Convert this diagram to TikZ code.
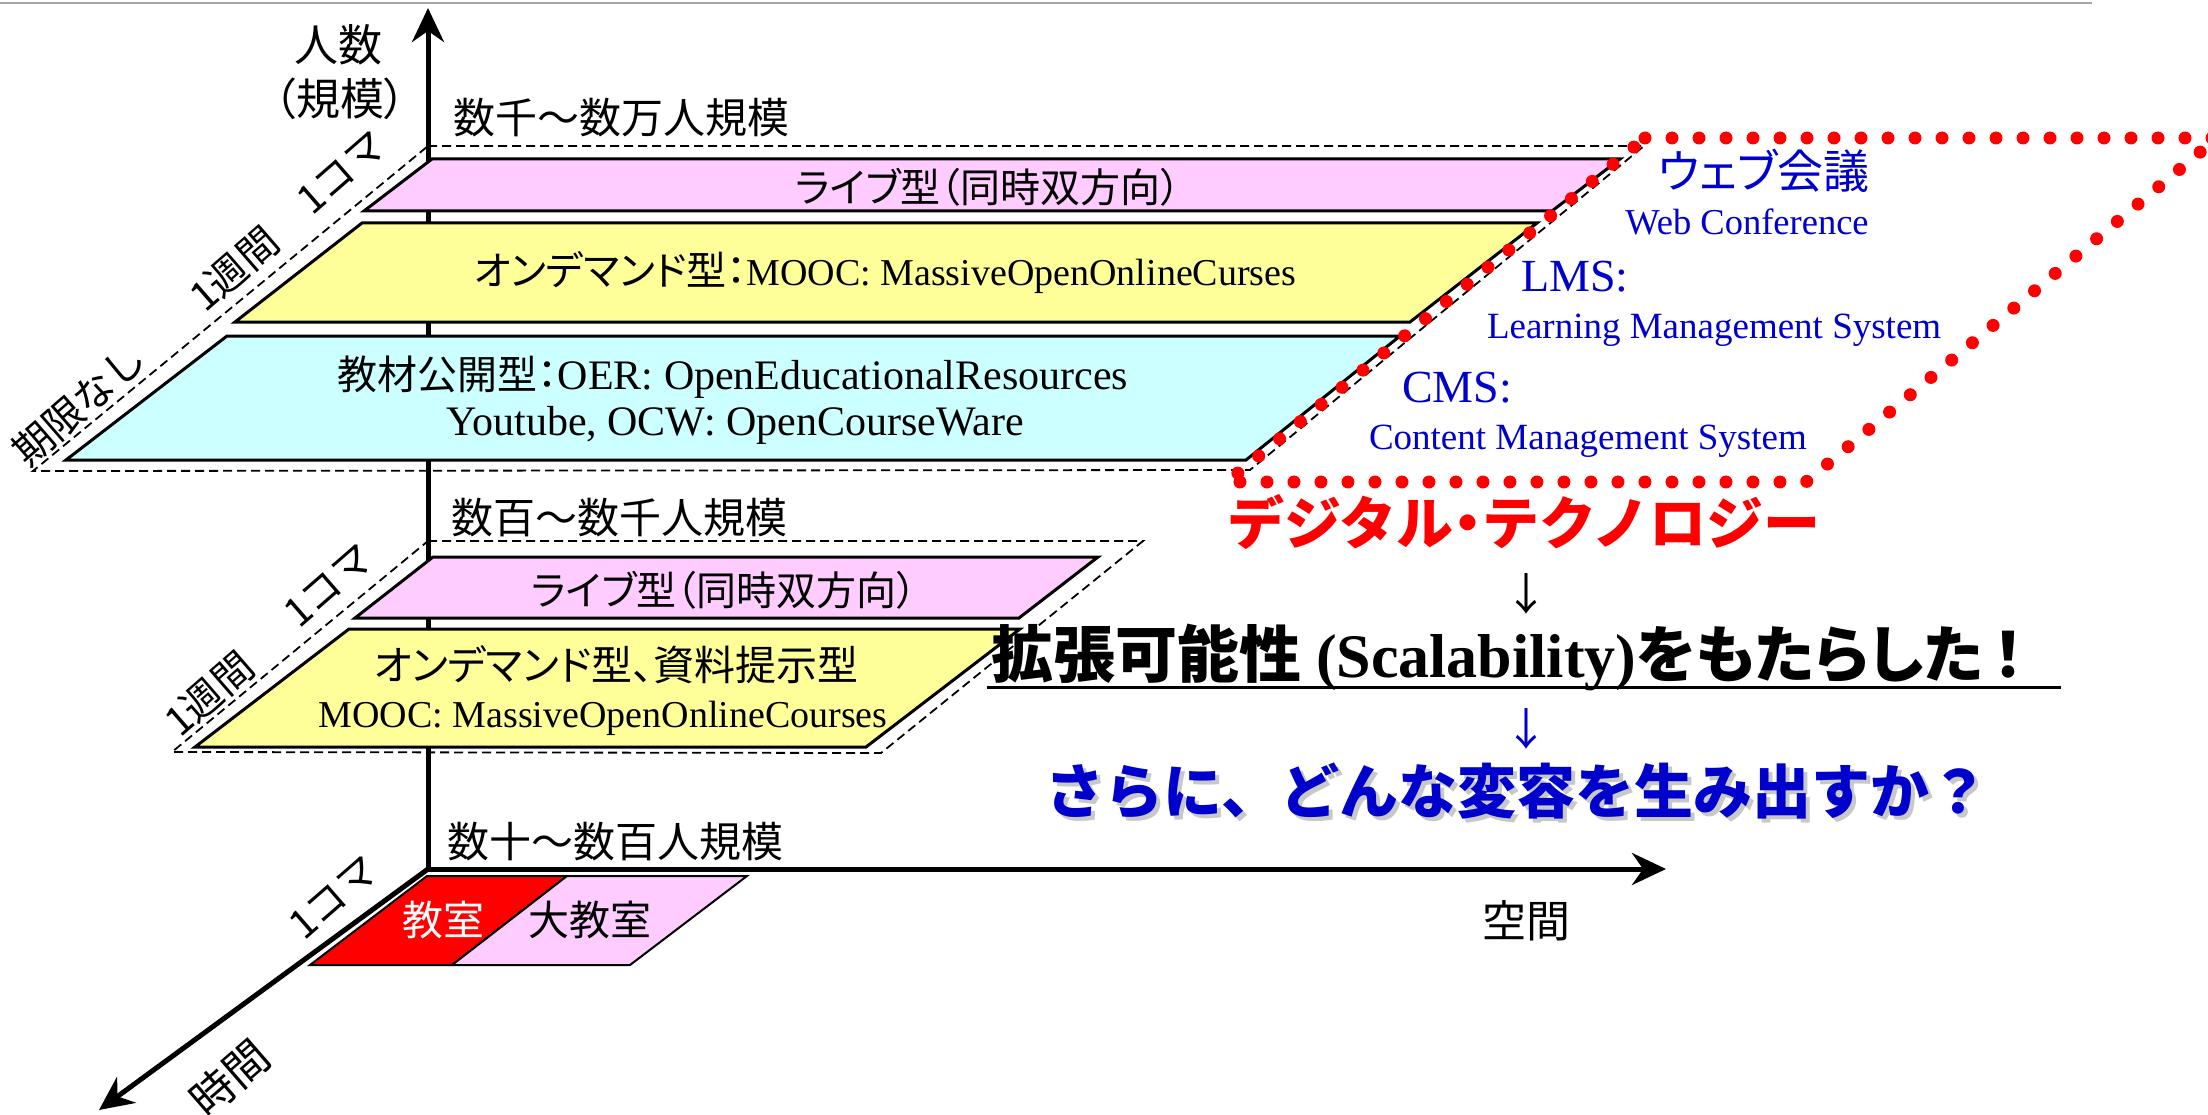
\documentclass[tikz,border=0pt]{standalone}
\usepackage{fontspec}
\setmainfont{Liberation Serif}
\newfontfamily\jp{Noto Sans CJK JP}
\newfontfamily\jpp{Noto Sans CJK JP}[RawFeature=+palt]
\usetikzlibrary{arrows.meta}
\definecolor{pinkf}{RGB}{255,204,255}
\definecolor{yellowf}{RGB}{255,255,153}
\definecolor{cyanf}{RGB}{204,255,255}
\definecolor{bluet}{RGB}{0,0,204}
\definecolor{redt}{RGB}{255,0,0}
\definecolor{grayl}{RGB}{166,166,166}
\definecolor{shadowc}{RGB}{200,200,200}
\newcommand\fsz[1]{\fontsize{#1}{#1}\selectfont}
\begin{document}
\begin{tikzpicture}[x=1pt,y=-1pt,
  lbl/.style={inner sep=0pt, outer sep=0pt},
  boxp/.style={draw=black, line width=3pt},
  frame/.style={draw=black, line width=1.8pt, dash pattern=on 9pt off 5pt},
  axisline/.style={line width=5pt},
  reddots/.style={draw=redt, line width=13pt, line cap=round, dash pattern=on 0pt off 27pt},
  rlbl/.style={lbl, rotate=41, font=\jp\fsz{40}}]
\useasboundingbox (0,0) rectangle (2208,1115);

% named coordinates
\coordinate (O) at (428,869);
\coordinate (ytip) at (428,8);
\coordinate (xtip) at (1666,869);
\coordinate (ttip) at (99,1110);
\coordinate (gl) at (0,3);
\coordinate (gr) at (2092,3);

\draw[grayl, line width=2.5pt] (gl) -- (gr);

% dashed frames
\draw[frame] (428,146) -- (1644,146) -- (1250,470) -- (33,471) -- cycle;
\draw[frame] (428,541) -- (1143,541) -- (881,753) -- (172,752) -- cycle;

% axes
\draw[axisline, {Stealth[length=34pt,width=32pt]}-{Stealth[length=34pt,width=32pt]}] (ytip) -- (O) -- (xtip);
\draw[axisline, -{Stealth[length=34pt,width=32pt]}] (O) -- (ttip);

% boxes
\draw[boxp, fill=pinkf] (432,159) -- (1620,159) -- (1552,211) -- (364,211) -- cycle;
\draw[boxp, fill=yellowf] (362,223) -- (1537,223) -- (1410,322) -- (235,322) -- cycle;
\draw[boxp, fill=cyanf] (227,336) -- (1400,336) -- (1246,460) -- (66,460) -- cycle;
\draw[boxp, fill=pinkf] (433,557) -- (1098,557) -- (1019,618) -- (355,618) -- cycle;
\draw[boxp, fill=yellowf] (349,629) -- (1020,629) -- (866,747) -- (195,747) -- cycle;
\draw[line width=2pt, fill=redt] (427,876) -- (567,876) -- (452,965) -- (310,965) -- cycle;
\draw[line width=2pt, fill=pinkf] (567,876) -- (747,876) -- (630,965) -- (452,965) -- cycle;

% axis labels
\node[lbl, font=\jp\fsz{44}] (ninzu) at (338,45) {人数};
\node[lbl, font=\jpp\fsz{44}] (kibo) at (340,99) {（規模）};
\node[lbl, font=\jp\fsz{44}] (kukan) at (1526,921) {空間};
\node[lbl, rotate=41, font=\jp\fsz{44}] (jikan) at (230,1078) {時間};

% scale labels
\node[lbl, font=\jp\fsz{42}, anchor=west] (g1) at (453,118) {数千～数万人規模};
\node[lbl, font=\jp\fsz{42}, anchor=west] (g2) at (451,518) {数百～数千人規模};
\node[lbl, font=\jp\fsz{42}, anchor=west] (g3) at (447,842) {数十～数百人規模};

% slanted labels
\node[rlbl] (koma1) at (342,173) {1コマ};
\node[rlbl] (week1) at (234,269) {1週間};
\node[rlbl] (nolim) at (79,405) {期限なし};
\node[rlbl] (koma2) at (329,586) {1コマ};
\node[rlbl] (week2) at (209,694) {1週間};
\node[rlbl] (koma3) at (334,898) {1コマ};

% box texts
\node[lbl, font=\jpp\fsz{40}] (live1) at (988,187) {ライブ型（同時双方向）};
\node[lbl] (od1) at (885,273) {{\jpp\fsz{40}オンデマンド型：}{\rmfamily\fsz{38}MOOC: MassiveOpenOnlineCurses}};
\node[lbl] (oer1) at (733,377) {{\jpp\fsz{40}教材公開型：}{\rmfamily\fsz{42}OER: OpenEducationalResources}};
\node[lbl, font=\rmfamily\fsz{42}] (oer2) at (735,425) {Youtube, OCW: OpenCourseWare};
\node[lbl, font=\jpp\fsz{40}] (live2) at (724,590) {ライブ型（同時双方向）};
\node[lbl, font=\jpp\fsz{41}] (od2a) at (616,665) {オンデマンド型、資料提示型};
\node[lbl, font=\rmfamily\fsz{38}] (od2b) at (603,718) {MOOC: MassiveOpenOnlineCourses};
\node[lbl, font=\jp\fsz{41}, text=white] (kyo) at (443,920) {教室};
\node[lbl, font=\jp\fsz{41}] (daikyo) at (590,920) {大教室};

% right side texts
\node[lbl, font=\jpp\fsz{46}, text=bluet] (web) at (1764,171) {ウェブ会議};
\node[lbl, font=\rmfamily\fsz{36.5}, text=bluet] (webc) at (1747,222) {Web Conference};
\node[lbl, font=\rmfamily\fsz{46}, text=bluet, anchor=west] (lms) at (1521,277) {LMS:};
\node[lbl, font=\rmfamily\fsz{37}, text=bluet, anchor=west] (lmsf) at (1487,330) {Learning Management System};
\node[lbl, font=\rmfamily\fsz{46}, text=bluet, anchor=west] (cms) at (1402,388) {CMS:};
\node[lbl, font=\rmfamily\fsz{37}, text=bluet, anchor=west] (cmsf) at (1369,441) {Content Management System};

\node[lbl, font=\bfseries\fsz{57}, text=redt] (digi) at (1524,522) {{\jp デジタル}{\jpp ・}{\jp テクノロジー}};
\node[lbl, font=\jp\fsz{44}] (arr1) at (1526,594) {↓};
\node[lbl] (scal) at (1508,657) {{\jpp\bfseries\fsz{62}拡張可能性 }{\rmfamily\bfseries\fsz{62}(Scalability)}{\jpp\bfseries\fsz{62}をもたらした\,！}};
\coordinate (ulL) at (987,687);
\coordinate (ulR) at (2061,687);
\draw[line width=3pt] (ulL) -- (ulR);
\node[lbl, font=\jp\fsz{44}, text=bluet] (arr2) at (1526,729) {↓};
\node[lbl, font=\jp\bfseries\fsz{59}, text=shadowc] (sarash) at (1521,795) {さらに、どんな変容を生み出すか？};
\node[lbl, font=\jp\bfseries\fsz{59}, text=bluet] (sara) at (1517,791) {さらに、どんな変容を生み出すか？};

% red dotted outline
\draw[reddots] (1645,138) -- (2217,138) -- (1806,482) -- (1227,482) -- cycle;
\end{tikzpicture}
\end{document}
